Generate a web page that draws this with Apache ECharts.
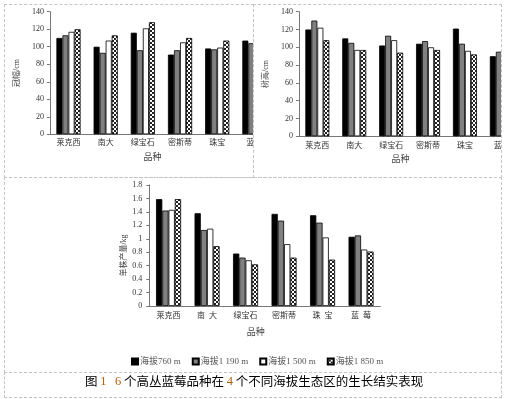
<!DOCTYPE html>
<html>
<head>
<meta charset="utf-8">
<script src="https://cdn.jsdelivr.net/npm/echarts@6/dist/echarts.min.js"></script>
<style>
  html, body { margin: 0; padding: 0; background: #fff; }
  .page { position: relative; width: 507px; height: 399px; overflow: hidden; }
  .cell { position: absolute; overflow: hidden; box-sizing: border-box; border: 1px dashed #c4c4c4; }
  .chart { position: absolute; left: 0; top: 0; }
</style>
</head>
<body>
<div class="page">
  <div class="cell" style="left:4px;top:4px;width:250px;height:174px;">
    <div class="chart" id="crown" style="width:300px;height:172px;"></div>
  </div>
  <div class="cell" style="left:253px;top:4px;width:249px;height:174px;">
    <div class="chart" id="height" style="width:300px;height:172px;"></div>
  </div>
  <div class="cell" style="left:4px;top:177px;width:498px;height:196px;">
    <div class="chart" id="yield" style="width:496px;height:194px;"></div>
  </div>
  <div class="cell" style="left:4px;top:372px;width:498px;height:26px;">
    <div class="chart" id="caption" style="width:496px;height:24px;"></div>
  </div>
</div>
<script>
// 品种
const categories = ['莱克西', '南大', '绿宝石', '密斯蒂', '珠宝', '蓝莓']
const categoriesYield = ['莱克西', '南  大', '绿宝石', '密斯蒂', '珠  宝', '蓝  莓']
const seriesNames = ['海拔760 m', '海拔1 190 m', '海拔1 500 m', '海拔1 850 m']

// 冠幅/cm
const crown760 = [110, 100, 116, 91, 98, 107]
const crown1190 = [113, 93, 96, 96, 97, 104]
const crown1500 = [117, 107, 121, 105, 99, 118]
const crown1850 = [120, 113, 128, 110, 107, 121]

// 树高/cm
const height760 = [120, 110, 102, 104, 121, 90]
const height1190 = [130, 105, 113, 107, 104, 95]
const height1500 = [122, 97, 108, 100, 96, 92]
const height1850 = [108, 97, 94, 97, 92, 88]

// 单株产量/kg
const yield760 = [1.59, 1.38, 0.78, 1.37, 1.35, 1.03]
const yield1190 = [1.42, 1.13, 0.72, 1.27, 1.24, 1.05]
const yield1500 = [1.43, 1.15, 0.68, 0.92, 1.02, 0.84]
const yield1850 = [1.59, 0.89, 0.62, 0.72, 0.69, 0.81]

const FONT = "'Liberation Serif', 'Noto Sans CJK SC', serif"

// 网格花纹
function makeHatch()
{
  const c = document.createElement('canvas')
  c.width = 4
  c.height = 4
  const ctx = c.getContext('2d')
  ctx.fillStyle = '#fff'
  ctx.fillRect(0, 0, 4, 4)
  ctx.fillStyle = '#222'
  for (let i = 0; i < 4; i++)
  {
    ctx.fillRect(i, i, 1, 1)
    ctx.fillRect(3 - i, i, 1, 1)
  }
  return c
}
const hatch = makeHatch()
const fills = ['#000', '#808080', '#fff', { image: hatch, repeat: 'repeat' }]

function buildSeries(list)
{
  return list.map((data, i) => ({
    name: seriesNames[i],
    type: 'bar',
    data: data,
    barGap: '0%',
    barCategoryGap: '35%',
    animation: false,
    itemStyle: { color: fills[i], borderColor: '#000', borderWidth: 0.8 },
    emphasis: { disabled: true }
  }))
}

function baseOption(grid, cats, yName, yMax, yInterval, opts)
{
  return {
    animation: false,
    textStyle: { fontFamily: FONT },
    grid: grid,
    xAxis: {
      type: 'category',
      data: cats,
      name: '品种',
      nameLocation: 'middle',
      nameGap: opts.xNameGap,
      nameTextStyle: { fontSize: 9, color: '#444', fontFamily: FONT, padding: [0, 18, 0, 0] },
      axisLine: { lineStyle: { color: '#777', width: 1 } },
      axisTick: { show: false },
      axisLabel: { fontSize: 8, color: '#333', margin: opts.xMargin, fontFamily: FONT, interval: 0 }
    },
    yAxis: {
      type: 'value',
      min: 0,
      max: yMax,
      interval: yInterval,
      name: yName,
      nameLocation: 'middle',
      nameGap: opts.yNameGap,
      nameTextStyle: { fontSize: 8, color: '#444', fontFamily: FONT, padding: opts.yNamePad || 0 },
      axisLine: { show: true, lineStyle: { color: '#777', width: 1 } },
      axisTick: { show: true, length: 3, lineStyle: { color: '#777' } },
      splitLine: { show: false },
      axisLabel: {
        fontSize: 8, color: '#333', margin: opts.yMargin, fontFamily: FONT,
        formatter: v => String(Number(v.toFixed(1)))
      }
    }
  }
}

const crownChart = echarts.init(document.getElementById('crown'))
const crownOpt = baseOption({ left: 35, top: 6.7, width: 233, height: 122.6 }, categories, '冠幅/cm', 140, 20,
  { xNameGap: 19, xMargin: 5, yNameGap: 20, yMargin: 6 })
crownOpt.series = buildSeries([crown760, crown1190, crown1500, crown1850])
crownChart.setOption(crownOpt)

const heightChart = echarts.init(document.getElementById('height'))
const heightOpt = baseOption({ left: 34.7, top: 6.7, width: 231.6, height: 124.6 }, categories, '树高/cm', 140, 20,
  { xNameGap: 18, xMargin: 6, yNameGap: 20, yMargin: 6 })
heightOpt.series = buildSeries([height760, height1190, height1500, height1850])
heightChart.setOption(heightOpt)

const yieldChart = echarts.init(document.getElementById('yield'))
const yieldOpt = baseOption({ left: 144.3, top: 7, width: 231, height: 121 }, categoriesYield, '单株产量/kg', 1.8, 0.2,
  { xNameGap: 22, xMargin: 6, yNameGap: 14, yMargin: 7, yNamePad: [0, 20, 0, 0] })
yieldOpt.series = buildSeries([yield760, yield1190, yield1500, yield1850])
yieldOpt.legend = {
  left: 121,
  top: 174,
  itemWidth: 6,
  itemHeight: 6,
  itemGap: 11,
  icon: 'rect',
  selectedMode: false,
  textStyle: { fontSize: 9, color: '#555', fontFamily: FONT, padding: [0, 0, 0, -3] },
  data: seriesNames
}
yieldChart.setOption(yieldOpt)

const captionChart = echarts.init(document.getElementById('caption'))
captionChart.setOption({
  animation: false,
  graphic: [{
    type: 'text',
    left: 80,
    top: 2,
    style: {
      text: '{a|图 }{n|1}{a|   }{n|6}{a| 个高丛蓝莓品种在 }{n|4}{a| 个不同海拔生态区的生长结实表现}',
      rich: {
        a: { fontSize: 12.5, fill: '#000', fontFamily: "'Noto Sans CJK SC', sans-serif" },
        n: { fontSize: 12.5, fill: '#b0600a', fontFamily: "'Liberation Serif', serif" }
      }
    }
  }]
})
</script>
</body>
</html>
